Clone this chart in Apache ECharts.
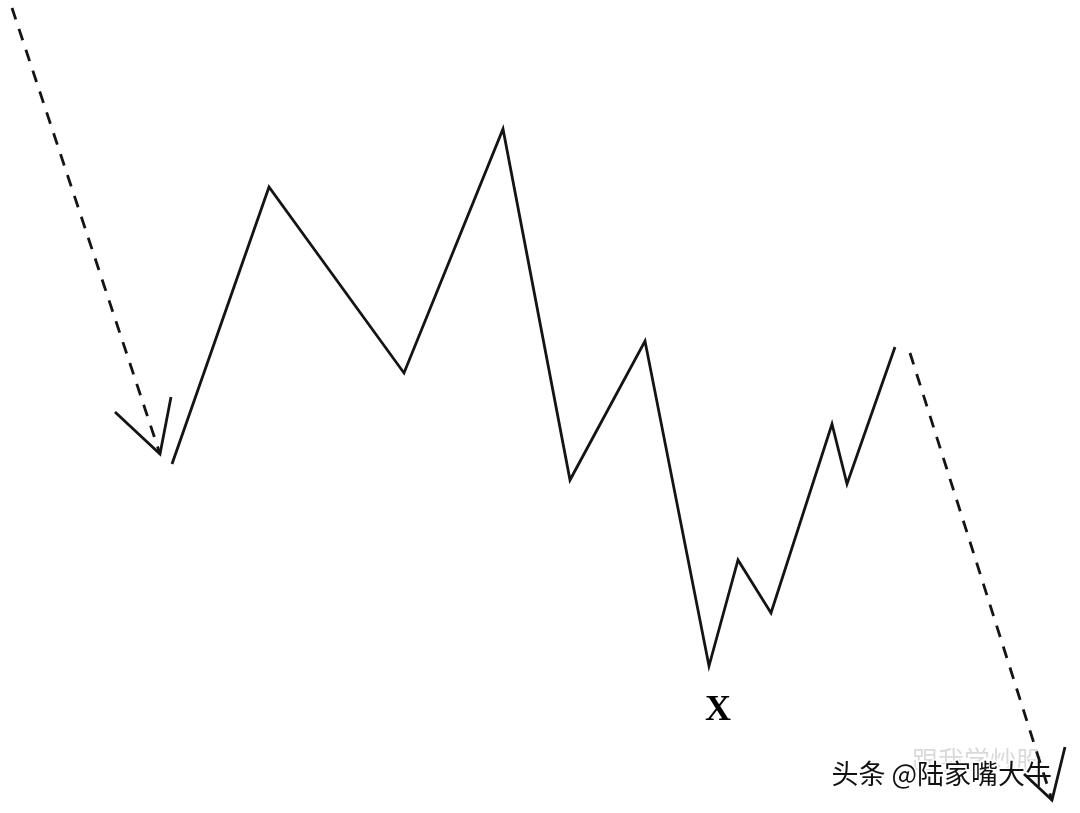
<!DOCTYPE html>
<html>
<head>
<meta charset="utf-8">
<script src="https://cdn.jsdelivr.net/npm/echarts@6/dist/echarts.min.js"></script>
<style>
html,body{margin:0;padding:0;background:#fff;}
#chart{width:1080px;height:813px;}
</style>
</head>
<body>
<div id="chart"></div>
<script>
// Main zigzag wave (x position, price level)
var waveX     = [172, 269, 404, 503, 570, 645, 709, 738, 771, 832, 847, 895];
var wavePrice = [349, 626, 440, 684, 333, 472, 147, 253, 200, 389, 329, 466];
// Incoming dashed trend
var inX     = [12, 160];
var inPrice = [805, 359];
// Incoming arrowhead (arm, tip, arm)
var inHeadX     = [115, 160, 171];
var inHeadPrice = [401, 359, 416];
// Outgoing dashed trend
var outX     = [910, 1052];
var outPrice = [460, 13];
// Outgoing arrowhead (arm, tip, arm)
var outHeadX     = [1024, 1052, 1065];
var outHeadPrice = [39, 13, 66];
// Label point
var labelX = [709];
var labelPrice = [147];
var labelText = ['X'];

function zip(xs, ys){ return xs.map(function(x,i){ return [x, ys[i]]; }); }

var ink = '#141414';
var chart = echarts.init(document.getElementById('chart'), null, {renderer:'canvas'});
chart.setOption({
  backgroundColor: '#ffffff',
  animation: false,
  grid: {left:0, right:0, top:0, bottom:0},
  xAxis: {type:'value', min:0, max:1080, show:false},
  yAxis: {type:'value', min:0, max:813, show:false},
  series: [
    {type:'line', data: zip(inX, inPrice), showSymbol:false, silent:true,
     lineStyle:{color:ink, width:2.8, type:[12,10]}},
    {type:'line', data: zip(inHeadX, inHeadPrice), showSymbol:false, silent:true,
     lineStyle:{color:ink, width:2.8, join:'miter', miterLimit:20}},
    {type:'line', data: zip(waveX, wavePrice), showSymbol:false, silent:true,
     lineStyle:{color:ink, width:2.8, join:'miter', miterLimit:20}},
    {type:'line', data: zip(outX, outPrice), showSymbol:false, silent:true,
     lineStyle:{color:ink, width:2.8, type:[12,10]}},
    {type:'line', data: zip(outHeadX, outHeadPrice), showSymbol:false, silent:true,
     lineStyle:{color:ink, width:2.8, join:'miter', miterLimit:20}},
    {type:'scatter', data: zip(labelX, labelPrice), symbolSize:1, silent:true,
     itemStyle:{color:'rgba(0,0,0,0)', opacity:1},
     label:{show:true, position:'bottom', distance:26, offset:[9,0],
       formatter:function(p){ return labelText[p.dataIndex]; },
       fontFamily:'Liberation Serif', fontWeight:'bold', fontSize:36, color:'#000',
       opacity:1, textBorderWidth:0}}
  ],
  graphic: [
    {type:'text', left:912, top:747, silent:true,
     style:{text:'跟我学炒股', font:'26px "Noto Sans CJK SC"', fill:'#dadada'}},
    {type:'text', left:830, top:759, silent:true,
     style:{text:'头条 @陆家嘴大牛', font:'27px "Noto Sans CJK SC"', fill:'#111',
       stroke:'#ffffff', lineWidth:3}}
  ]
});
</script>
</body>
</html>
